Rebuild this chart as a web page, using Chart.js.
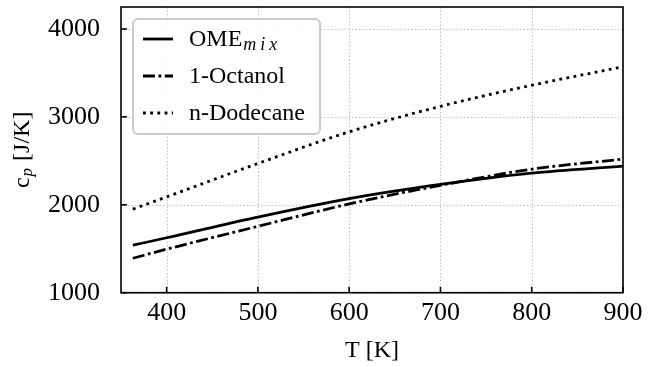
<!DOCTYPE html>
<html>
<head>
<meta charset="utf-8">
<script src="https://cdn.jsdelivr.net/npm/chart.js@4.4.1/dist/chart.umd.min.js"></script>
<style>
  html, body { margin: 0; padding: 0; background: #ffffff; }
  #wrap { width: 659px; height: 367px; position: relative; }
</style>
</head>
<body>
<div id="wrap"><canvas id="c" width="659" height="367"></canvas></div>
<script>
// ---- data ----
const temps = [363, 400, 500, 600, 700, 800, 900];
const omeMix = [1540, 1625, 1860, 2070, 2232, 2360, 2440];
const octanol = [1392, 1495, 1755, 2010, 2222, 2405, 2520];
const dodecane = [1950, 2090, 2470, 2830, 3120, 3360, 3570];
const seriesLabels = ['OME_mix', '1-Octanol', 'n-Dodecane'];
const xTicks = [400, 500, 600, 700, 800, 900];
const yTicks = [1000, 2000, 3000, 4000];

const FONT = '"Liberation Serif", "Times New Roman", serif';

function pts(ys) { return temps.map((t, i) => ({ x: t, y: ys[i] })); }

// draw text with optional "_sub" subscript; returns width
function drawRich(ctx, label, x, y, size, measureOnly) {
  const parts = label.split('_');
  ctx.font = size + 'px ' + FONT;
  let w = ctx.measureText(parts[0]).width;
  if (!measureOnly) ctx.fillText(parts[0], x, y);
  if (parts.length > 1) {
    const subSize = Math.round(size * 0.74);
    ctx.font = 'italic ' + subSize + 'px ' + FONT;
    let sx = x + w;
    const sub = parts[1];
    for (const ch of sub) {
      if (!measureOnly) ctx.fillText(ch, sx + 1, y + size * 0.22);
      sx += ctx.measureText(ch).width + 4;
    }
    w = sx - x;
  }
  return w;
}

const framePlugin = {
  id: 'frame',
  beforeDatasetsDraw(chart) {
    const { ctx, chartArea: a, scales } = chart;
    ctx.save();
    ctx.strokeStyle = '#b8b8b8';
    ctx.lineWidth = 1;
    ctx.setLineDash([1.3, 2.2]);
    xTicks.forEach(v => {
      const px = Math.round(scales.x.getPixelForValue(v)) + 0.5;
      ctx.beginPath(); ctx.moveTo(px, a.top); ctx.lineTo(px, a.bottom); ctx.stroke();
    });
    yTicks.forEach(v => {
      const py = Math.round(scales.y.getPixelForValue(v)) + 0.5;
      ctx.beginPath(); ctx.moveTo(a.left, py); ctx.lineTo(a.right, py); ctx.stroke();
    });
    ctx.restore();
  },
  afterDatasetsDraw(chart) {
    const { ctx, chartArea: a, scales } = chart;
    ctx.save();
    ctx.strokeStyle = '#000';
    ctx.lineWidth = 1.6;
    ctx.setLineDash([]);
    // inward ticks
    xTicks.forEach(v => {
      const px = scales.x.getPixelForValue(v);
      ctx.beginPath(); ctx.moveTo(px, a.bottom); ctx.lineTo(px, a.bottom - 6); ctx.stroke();
    });
    yTicks.forEach(v => {
      const py = scales.y.getPixelForValue(v);
      ctx.beginPath(); ctx.moveTo(a.left, py); ctx.lineTo(a.left + 6, py); ctx.stroke();
    });
    ctx.strokeRect(a.left, a.top, a.right - a.left, a.bottom - a.top);

    // legend
    const lx = a.left + 12, ly = a.top + 12, lw = 187, lh = 115, r = 5;
    ctx.beginPath();
    ctx.moveTo(lx + r, ly);
    ctx.arcTo(lx + lw, ly, lx + lw, ly + lh, r);
    ctx.arcTo(lx + lw, ly + lh, lx, ly + lh, r);
    ctx.arcTo(lx, ly + lh, lx, ly, r);
    ctx.arcTo(lx, ly, lx + lw, ly, r);
    ctx.closePath();
    ctx.fillStyle = 'rgba(255,255,255,0.85)';
    ctx.fill();
    ctx.strokeStyle = '#cccccc';
    ctx.lineWidth = 2;
    ctx.stroke();

    chart.data.datasets.forEach((ds, i) => {
      const cy = ly + 20 + i * 37;
      ctx.strokeStyle = '#000';
      ctx.lineWidth = ds.borderWidth;
      ctx.setLineDash(ds.borderDash || []);
      ctx.beginPath(); ctx.moveTo(lx + 10, cy); ctx.lineTo(lx + 40, cy); ctx.stroke();
      ctx.setLineDash([]);
      ctx.fillStyle = '#000';
      ctx.textBaseline = 'middle';
      ctx.textAlign = 'left';
      drawRich(ctx, seriesLabels[i], lx + 56, cy + 1, 24, false);
    });

    // y axis title: c_p [J/K]
    ctx.save();
    ctx.translate(23, (a.top + a.bottom) / 2);
    ctx.rotate(-Math.PI / 2);
    ctx.fillStyle = '#000';
    ctx.textBaseline = 'middle';
    ctx.textAlign = 'left';
    ctx.font = '24px ' + FONT;
    const w1 = ctx.measureText('c').width;
    ctx.font = 'italic 17px ' + FONT;
    const w2 = ctx.measureText('p').width;
    ctx.font = '24px ' + FONT;
    const w3 = ctx.measureText(' [J/K]').width;
    const total = w1 + w2 + 2 + w3;
    let sx = -total / 2;
    ctx.fillText('c', sx, 0);
    sx += w1;
    ctx.font = 'italic 17px ' + FONT;
    ctx.fillText('p', sx + 1, 5);
    sx += w2 + 2;
    ctx.font = '24px ' + FONT;
    ctx.fillText(' [J/K]', sx, 0);
    ctx.restore();

    ctx.restore();
  }
};

function noPad(s) { s.paddingTop = 0; s.paddingBottom = 0; s.paddingLeft = 0; s.paddingRight = 0; }

new Chart(document.getElementById('c'), {
  type: 'line',
  data: {
    datasets: [
      { label: seriesLabels[0], data: pts(omeMix), borderColor: '#000', borderWidth: 2.8, borderDash: [], pointRadius: 0, fill: false, cubicInterpolationMode: 'monotone' },
      { label: seriesLabels[1], data: pts(octanol), borderColor: '#000', borderWidth: 2.8, borderDash: [12, 3.5, 2.8, 3.5], pointRadius: 0, fill: false, cubicInterpolationMode: 'monotone' },
      { label: seriesLabels[2], data: pts(dodecane), borderColor: '#000', borderWidth: 2.8, borderDash: [2.8, 4.4], pointRadius: 0, fill: false, cubicInterpolationMode: 'monotone' }
    ]
  },
  options: {
    responsive: false,
    animation: false,
    devicePixelRatio: 1,
    layout: { padding: { left: 0, right: 36, top: 7, bottom: 0 }, autoPadding: false },
    plugins: { legend: { display: false }, tooltip: { enabled: false }, title: { display: false } },
    scales: {
      x: {
        type: 'linear', min: 350, max: 900,
        afterBuildTicks: s => { s.ticks = xTicks.map(v => ({ value: v })); },
        afterFit: s => { s.height = 74.3; noPad(s); },
        grid: { display: false },
        border: { display: false },
        ticks: { color: '#000', font: { family: FONT, size: 26 }, padding: -3, maxRotation: 0, autoSkip: false, callback: v => String(v) },
        title: { display: true, text: 'T [K]', color: '#000', font: { family: FONT, size: 24 }, padding: { top: 2, bottom: 2 } }
      },
      y: {
        type: 'linear', min: 1000, max: 4250,
        afterBuildTicks: s => { s.ticks = yTicks.map(v => ({ value: v })); },
        afterFit: s => { s.width = 121; noPad(s); },
        grid: { display: false },
        border: { display: false },
        ticks: { color: '#000', font: { family: FONT, size: 26 }, padding: 13, autoSkip: false, callback: v => String(v) }
      }
    }
  },
  plugins: [framePlugin]
});
</script>
</body>
</html>
